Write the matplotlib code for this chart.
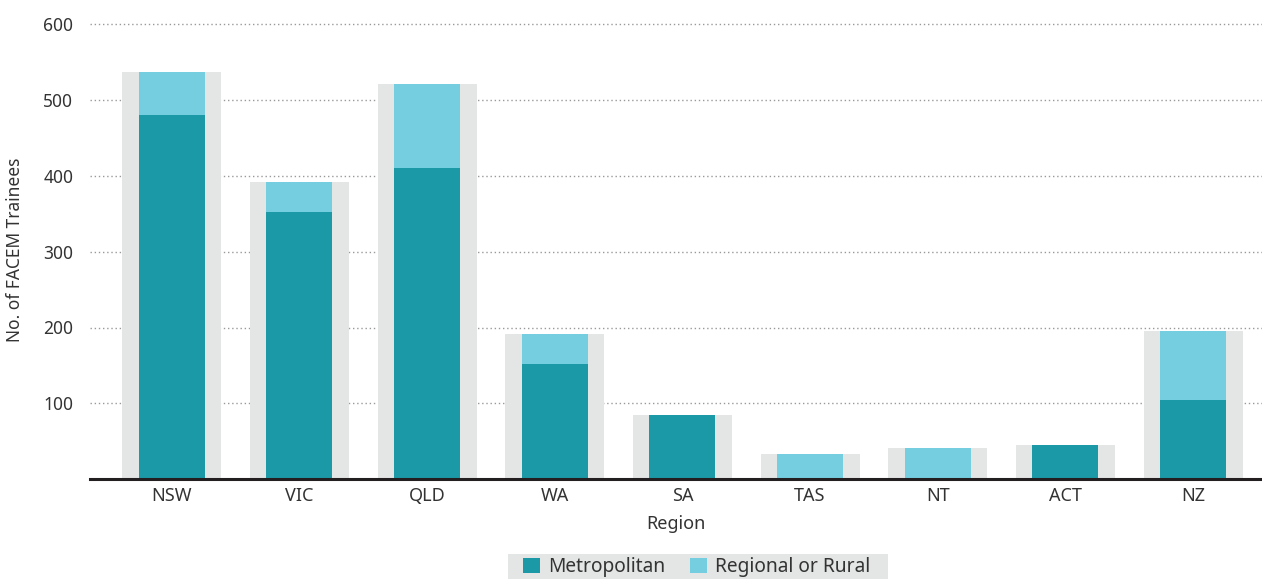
import matplotlib
matplotlib.use("Agg")
import matplotlib.pyplot as plt
from matplotlib.patches import Patch, Rectangle

# Trainee counts by region
regions = ["NSW", "VIC", "QLD", "WA", "SA", "TAS", "NT", "ACT", "NZ"]
metropolitan = [480, 353, 410, 152, 84, 0, 0, 45, 104]
regional = [57, 39, 112, 40, 0, 33, 41, 0, 92]
y_ticks = [100, 200, 300, 400, 500, 600]

METRO_C = "#1B99A6"
REG_C = "#75CEE0"
BG_C = "#E4E5E5"
TXT_C = "#333333"

plt.rcParams["font.family"] = ["Noto Sans", "DejaVu Sans"]

W, H = 1262, 579
fig = plt.figure(figsize=(W / 100, H / 100), dpi=100)
# plot area: y = 0 sits at 479 px, y = 600 at 24.5 px (top limit padded to 605)
y0_px, ppu = 479, (479 - 24.5) / 600
top_px = y0_px - 605 * ppu
ax = fig.add_axes([90 / W, 1 - y0_px / H, (W - 90) / W, (y0_px - top_px) / H])

x = list(range(len(regions)))
totals = [m + r for m, r in zip(metropolitan, regional)]

ax.bar(x, totals, width=0.776, color=BG_C, zorder=2, linewidth=0)
ax.bar(x, metropolitan, width=0.517, color=METRO_C, zorder=3, linewidth=0)
ax.bar(x, regional, width=0.517, bottom=metropolitan, color=REG_C, zorder=3, linewidth=0)

ax.set_xlim(-0.64, 8.54)
ax.set_ylim(0, 605)
ax.set_yticks(y_ticks)
ax.set_xticks(x)
ax.set_xticklabels(regions)
ax.tick_params(axis="both", length=0, colors=TXT_C)
ax.tick_params(axis="y", labelsize=12.5, pad=12)
ax.tick_params(axis="x", labelsize=13, pad=6)

ax.yaxis.grid(True, linestyle=(0, (1, 2)), color="#999999", linewidth=1, zorder=1)
ax.set_axisbelow(True)

for side in ["top", "right", "left"]:
    ax.spines[side].set_visible(False)
ax.spines["bottom"].set_color("#231F20")
ax.spines["bottom"].set_linewidth(2.2)
ax.spines["bottom"].set_zorder(5)

ax.set_ylabel("No. of FACEM Trainees", fontsize=12.5, color=TXT_C, labelpad=14)
ax.set_xlabel("Region", fontsize=13, color=TXT_C, labelpad=7)

# grey legend panel running off the bottom edge
fig.patches.append(Rectangle((508 / W, 0), (888 - 508) / W, (H - 554) / H,
                             transform=fig.transFigure, facecolor=BG_C,
                             edgecolor="none", zorder=0))

handles = [Patch(facecolor=METRO_C, label="Metropolitan"),
           Patch(facecolor=REG_C, label="Regional or Rural")]
leg = fig.legend(handles=handles, loc="center", ncol=2,
                 bbox_to_anchor=(697 / W, 1 - 567 / H), frameon=False,
                 fontsize=13.8, handlelength=0.85, handleheight=0.85,
                 handletextpad=0.45, columnspacing=1.3, borderpad=0.0,
                 borderaxespad=0.0)
for t in leg.get_texts():
    t.set_color(TXT_C)

fig.savefig("out.png", dpi=100, facecolor="white")
